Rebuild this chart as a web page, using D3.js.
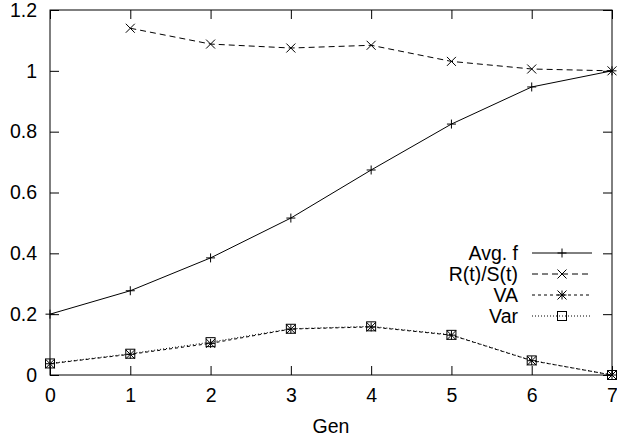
<!DOCTYPE html>
<html>
<head>
<meta charset="utf-8">
<script src="https://cdn.jsdelivr.net/npm/d3@7"></script>
<style>
  body { margin: 0; background: #fff; }
  text { font-family: "Liberation Sans", Arial, sans-serif; fill: #000; }
</style>
</head>
<body>
<div id="chart"></div>
<script>
// generations and series values
var gens = [0, 1, 2, 3, 4, 5, 6, 7];
var avgF = [0.2, 0.277, 0.385, 0.516, 0.674, 0.825, 0.947, 1.0];
var ratio = [null, 1.14, 1.088, 1.075, 1.084, 1.031, 1.006, 1.0];
var va = [0.037, 0.068, 0.104, 0.151, 0.158, 0.131, 0.047, 0.0];
var vr = [0.038, 0.070, 0.108, 0.152, 0.160, 0.132, 0.048, 0.0];
var xTicks = [0, 1, 2, 3, 4, 5, 6, 7];
var yTicks = [0, 0.2, 0.4, 0.6, 0.8, 1, 1.2];

var W = 617, H = 441;
var margin = {top: 10, right: 5, bottom: 66, left: 50},
    width = W - margin.left - margin.right,
    height = H - margin.top - margin.bottom;

var x = d3.scaleLinear().domain([0, 7]).range([0, width]);
var y = d3.scaleLinear().domain([0, 1.2]).range([height, 0]);

var svg = d3.select("#chart").append("svg")
    .attr("width", W).attr("height", H)
  .append("g")
    .attr("transform", "translate(" + margin.left + "," + margin.top + ")");

var tickLen = 9;
var fontSize = "19.5px";
var fmt = function(d) { return d3.format("~g")(d); };

// axes on all four sides, ticks pointing inward, labels only bottom/left
var xb = svg.append("g").attr("transform", "translate(0," + height + ")")
    .call(d3.axisBottom(x).tickValues(xTicks).tickSize(-tickLen).tickPadding(13).tickFormat(fmt));
var xt = svg.append("g")
    .call(d3.axisTop(x).tickValues(xTicks).tickSize(-tickLen).tickFormat(""));
var yl = svg.append("g")
    .call(d3.axisLeft(y).tickValues(yTicks).tickSize(-tickLen).tickPadding(13).tickFormat(fmt));
var yr = svg.append("g").attr("transform", "translate(" + width + ",0)")
    .call(d3.axisRight(y).tickValues(yTicks).tickSize(-tickLen).tickFormat(""));

[xb, xt, yl, yr].forEach(function(g) {
  g.select(".domain").remove();
  g.selectAll("line").attr("stroke", "#000").attr("stroke-width", 1);
  g.selectAll("text").style("font-size", fontSize).attr("fill", "#000");
});

svg.append("rect")
    .attr("width", width).attr("height", height)
    .attr("fill", "none").attr("stroke", "#000").attr("stroke-width", 1);

// x axis title
svg.append("text")
    .attr("x", width / 2).attr("y", height + 58)
    .attr("text-anchor", "middle")
    .style("font-size", fontSize)
    .text("Gen");

// marker drawers
var s = 4.5;
function plus(g, px, py) {
  g.append("path").attr("d", "M" + (px - s) + "," + py + "H" + (px + s) + "M" + px + "," + (py - s) + "V" + (py + s));
}
function cross(g, px, py) {
  g.append("path").attr("d", "M" + (px - s) + "," + (py - s) + "L" + (px + s) + "," + (py + s) +
    "M" + (px - s) + "," + (py + s) + "L" + (px + s) + "," + (py - s));
}
function star(g, px, py) { plus(g, px, py); cross(g, px, py); }
function square(g, px, py) {
  g.append("rect").attr("x", px - s).attr("y", py - s).attr("width", 2 * s).attr("height", 2 * s).attr("fill", "none");
}

var series = [
  {name: "Avg. f", vals: avgF, dash: null, mark: plus},
  {name: "R(t)/S(t)", vals: ratio, dash: "6,4", mark: cross},
  {name: "VA", vals: va, dash: "3,3", mark: star},
  {name: "Var", vals: vr, dash: "1,2", mark: square}
];

var line = d3.line()
    .defined(function(d) { return d[1] != null; })
    .x(function(d) { return x(d[0]); })
    .y(function(d) { return y(d[1]); });

series.forEach(function(sr) {
  var pts = gens.map(function(g, i) { return [g, sr.vals[i]]; });
  svg.append("path")
      .attr("d", line(pts))
      .attr("fill", "none").attr("stroke", "#000").attr("stroke-width", 1)
      .attr("stroke-dasharray", sr.dash);
  var mg = svg.append("g").attr("stroke", "#000").attr("stroke-width", 1).attr("fill", "none");
  pts.forEach(function(p) {
    if (p[1] != null) sr.mark(mg, x(p[0]), y(p[1]));
  });
});

// legend
var lg = svg.append("g").attr("transform", "translate(" + (518 - margin.left) + "," + (253 - margin.top) + ")");
series.forEach(function(sr, i) {
  var row = lg.append("g").attr("transform", "translate(0," + (i * 21) + ")");
  row.append("text").attr("x", 0).attr("dy", "0.35em")
      .attr("text-anchor", "end").style("font-size", fontSize).text(sr.name);
  row.append("line").attr("x1", 14).attr("x2", 74)
      .attr("stroke", "#000").attr("stroke-width", 1).attr("stroke-dasharray", sr.dash);
  var mg = row.append("g").attr("stroke", "#000").attr("stroke-width", 1).attr("fill", "none");
  sr.mark(mg, 44, 0);
});
</script>
</body>
</html>
